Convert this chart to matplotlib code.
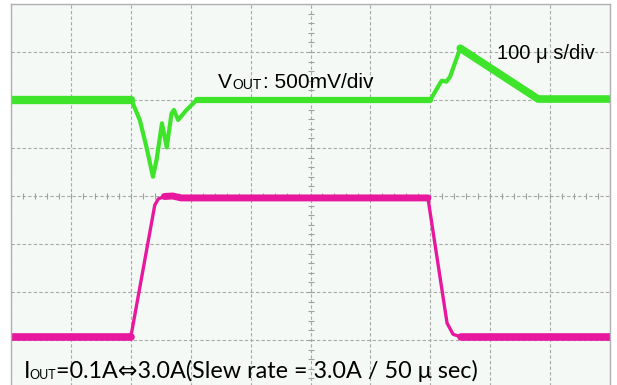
import numpy as np
import matplotlib
matplotlib.use('Agg')
import matplotlib.pyplot as plt

# ---- trace data ----
# Vout deviation (mV) vs time (us), 500 mV/div, 100 us/div
vout_t = [0, 201, 215, 226, 237, 243, 252, 260, 268, 272, 279, 293, 310,
          700, 713, 719, 727, 733, 750, 880, 1000]
vout_mv = [0, 0, -208, -486, -799, -625, -243, -493, -139, -104, -208, -104, 0,
           0, 139, 201, 191, 243, 539, 10, 10]

# Iout (A) vs time (us), 1 A/div
iout_t = [0, 200, 240, 246, 256, 270, 284, 696, 728, 738, 752, 1000]
iout_a = [0.1, 0.1, 2.85, 2.98, 3.03, 3.04, 3.0, 3.0, 0.39, 0.16, 0.1, 0.1]

# channel positions on screen (divisions from bottom)
vout_pos = 6.0
vout_scale = 500.0   # mV/div
iout_zero = 0.96
iout_scale = 1.0     # A/div

green = '#3de42a'
magenta = '#e8189e'

fig = plt.figure(figsize=(6.17, 3.85), dpi=100)
ax = fig.add_axes([11/617, -3/385, 599/617, 384/385])
ax.set_facecolor('#f4f9f6')
ax.set_xlim(0, 1000)
ax.set_ylim(0, 8)

# graticule
ax.set_xticks(np.arange(0, 1001, 100))
ax.set_yticks(np.arange(0, 9, 1))
ax.tick_params(length=0, labelbottom=False, labelleft=False)
ax.grid(True, color='#a8aaa8', lw=0.8, ls=(0, (3, 2)))
for s in ax.spines.values():
    s.set_color('#b0b0b0')
    s.set_linewidth(1.0)

# minor marks on the centre cross
ax.plot(np.arange(0, 1001, 20), np.full(51, 4.0), ls='none', marker='|',
        ms=4, mew=0.8, color='#a0a0a0')
ax.plot(np.full(41, 500.0), np.arange(0, 8.01, 0.2), ls='none', marker='_',
        ms=4, mew=0.8, color='#a0a0a0')

vy = vout_pos + np.array(vout_mv) / vout_scale
iy = iout_zero + np.array(iout_a) / iout_scale
vt = np.array(vout_t)
it = np.array(iout_t)

# thin trace for fast edges, thick band where the trace sits flat (noise)
ax.plot(vt, vy, color=green, lw=3.0, solid_joinstyle='round')
ax.plot(vt[:2], vy[:2], color=green, lw=6.0, solid_capstyle='round')
ax.plot(vt[12:14], vy[12:14], color=green, lw=4.5, solid_capstyle='round')
ax.plot(vt[18:], vy[18:], color=green, lw=5.5, solid_capstyle='round')

ax.plot(it, iy, color=magenta, lw=2.4, solid_joinstyle='round')
ax.plot(it[:2], iy[:2], color=magenta, lw=5.5, solid_capstyle='round')
ax.plot(it[4:8], iy[4:8], color=magenta, lw=5.0, solid_capstyle='round')
ax.plot(it[10:], iy[10:], color=magenta, lw=5.5, solid_capstyle='round')

# labels
fig.text(218/617, 1 - 88/385, r'V', fontsize=15, family='Liberation Sans',
         va='baseline')
fig.text(232/617, 1 - 89/385, 'OUT', fontsize=10, family='Liberation Sans',
         va='baseline')
fig.text(263/617, 1 - 88/385, ': 500mV/div', fontsize=15,
         family='Liberation Sans', va='baseline')
fig.text(497/617, 1 - 59/385, '100 \u03bc s/div', fontsize=14.5,
         family='Liberation Sans', va='baseline')

fig.text(24/617, 1 - 378/385, 'I', fontsize=17, family='Lato', va='baseline')
fig.text(29/617, 1 - 379/385, 'OUT', fontsize=9, family='Lato',
         va='baseline')
fig.text(56/617, 1 - 378/385,
         '=0.1A\u21d43.0A(Slew rate = 3.0A / 50 \u03bc sec)',
         fontsize=16.8, family=['Lato', 'DejaVu Sans'], va='baseline')

fig.savefig('out.png', dpi=100)
